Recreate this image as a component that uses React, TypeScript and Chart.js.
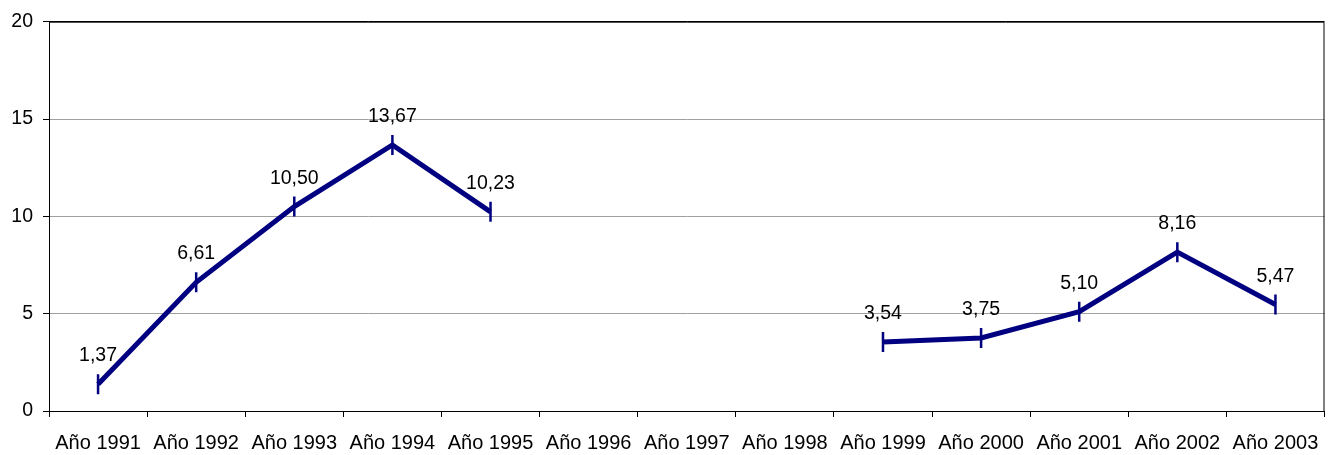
import React, { useEffect, useRef } from "react";
import { Chart, registerables } from "chart.js";

Chart.register(...registerables);

const categories = [
  "Año 1991", "Año 1992", "Año 1993", "Año 1994", "Año 1995", "Año 1996", "Año 1997",
  "Año 1998", "Año 1999", "Año 2000", "Año 2001", "Año 2002", "Año 2003",
];
const values: (number | null)[] = [
  1.37, 6.61, 10.5, 13.67, 10.23, null, null, null, 3.54, 3.75, 5.1, 8.16, 5.47,
];
const yTicks = [0, 5, 10, 15, 20];

const FONT = "'Liberation Sans', Arial, sans-serif";
const NAVY = "#000080";

const labelPlugin = {
  id: "valueLabels",
  afterDatasetsDraw(chart: any) {
    const ctx = chart.ctx;
    const meta = chart.getDatasetMeta(0);
    ctx.save();
    ctx.font = `19.5px ${FONT}`;
    ctx.fillStyle = "#000";
    ctx.textAlign = "center";
    ctx.textBaseline = "alphabetic";
    meta.data.forEach((pt: any, i: number) => {
      const v = values[i];
      if (v === null || v === undefined) return;
      const txt = v.toFixed(2).replace(".", ",");
      ctx.fillText(txt, pt.x, pt.y - 23);
    });
    ctx.restore();
  },
};

const borderPlugin = {
  id: "plotBorder",
  beforeDatasetsDraw(chart: any) {
    const { ctx, chartArea } = chart;
    ctx.save();
    ctx.strokeStyle = "#000";
    ctx.lineWidth = 1;
    ctx.beginPath();
    ctx.moveTo(chartArea.left, chartArea.top + 0.5);
    ctx.lineTo(chartArea.right - 0.5, chartArea.top + 0.5);
    ctx.lineTo(chartArea.right - 0.5, chartArea.bottom);
    ctx.stroke();
    ctx.restore();
  },
};

export default function App() {
  const ref = useRef<HTMLCanvasElement | null>(null);

  useEffect(() => {
    document.body.style.margin = "0";
    if (!ref.current) return;
    const chart = new Chart(ref.current, {
      type: "line",
      data: {
        labels: categories,
        datasets: [
          {
            data: values,
            borderColor: NAVY,
            backgroundColor: NAVY,
            borderWidth: 5,
            pointStyle: "line",
            pointRotation: 90,
            pointRadius: 10,
            pointBorderWidth: 2.5,
            pointHoverRadius: 10,
            spanGaps: false,
            tension: 0,
          },
        ],
      },
      options: {
        animation: false,
        responsive: false,
        maintainAspectRatio: false,
        layout: { padding: { top: 20, right: 6, left: 0, bottom: 0 } },
        plugins: {
          legend: { display: false },
          tooltip: { enabled: false },
        },
        scales: {
          x: {
            type: "category",
            offset: true,
            grid: {
              offset: true,
              drawOnChartArea: false,
              drawTicks: true,
              tickLength: 6,
              tickColor: "#000",
            },
            border: { display: true, color: "#000", width: 1 },
            ticks: {
              color: "#000",
              font: { family: FONT, size: 20 },
              padding: 14,
              maxRotation: 0,
              autoSkip: false,
            },
            afterFit: (scale: any) => {
              scale.height = 44;
            },
          },
          y: {
            min: 0,
            max: 20,
            afterBuildTicks: (scale: any) => {
              scale.ticks = yTicks.map((v) => ({ value: v }));
            },
            grid: {
              color: (c: any) => (c.tick && c.tick.value === 20 ? "#000" : "#a0a0a0"),
              drawTicks: true,
              tickLength: 6,
              tickColor: "#000",
            },
            border: { display: true, color: "#000", width: 1 },
            ticks: {
              color: "#000",
              font: { family: FONT, size: 19.5 },
              padding: 10,
            },
            afterFit: (scale: any) => {
              scale.width = 49;
            },
          },
        },
      },
      plugins: [borderPlugin, labelPlugin],
    });
    return () => chart.destroy();
  }, []);

  return (
    <div style={{ width: 1337, height: 455 }}>
      <canvas ref={ref} width={1337} height={455} style={{ display: "block" }} />
    </div>
  );
}
